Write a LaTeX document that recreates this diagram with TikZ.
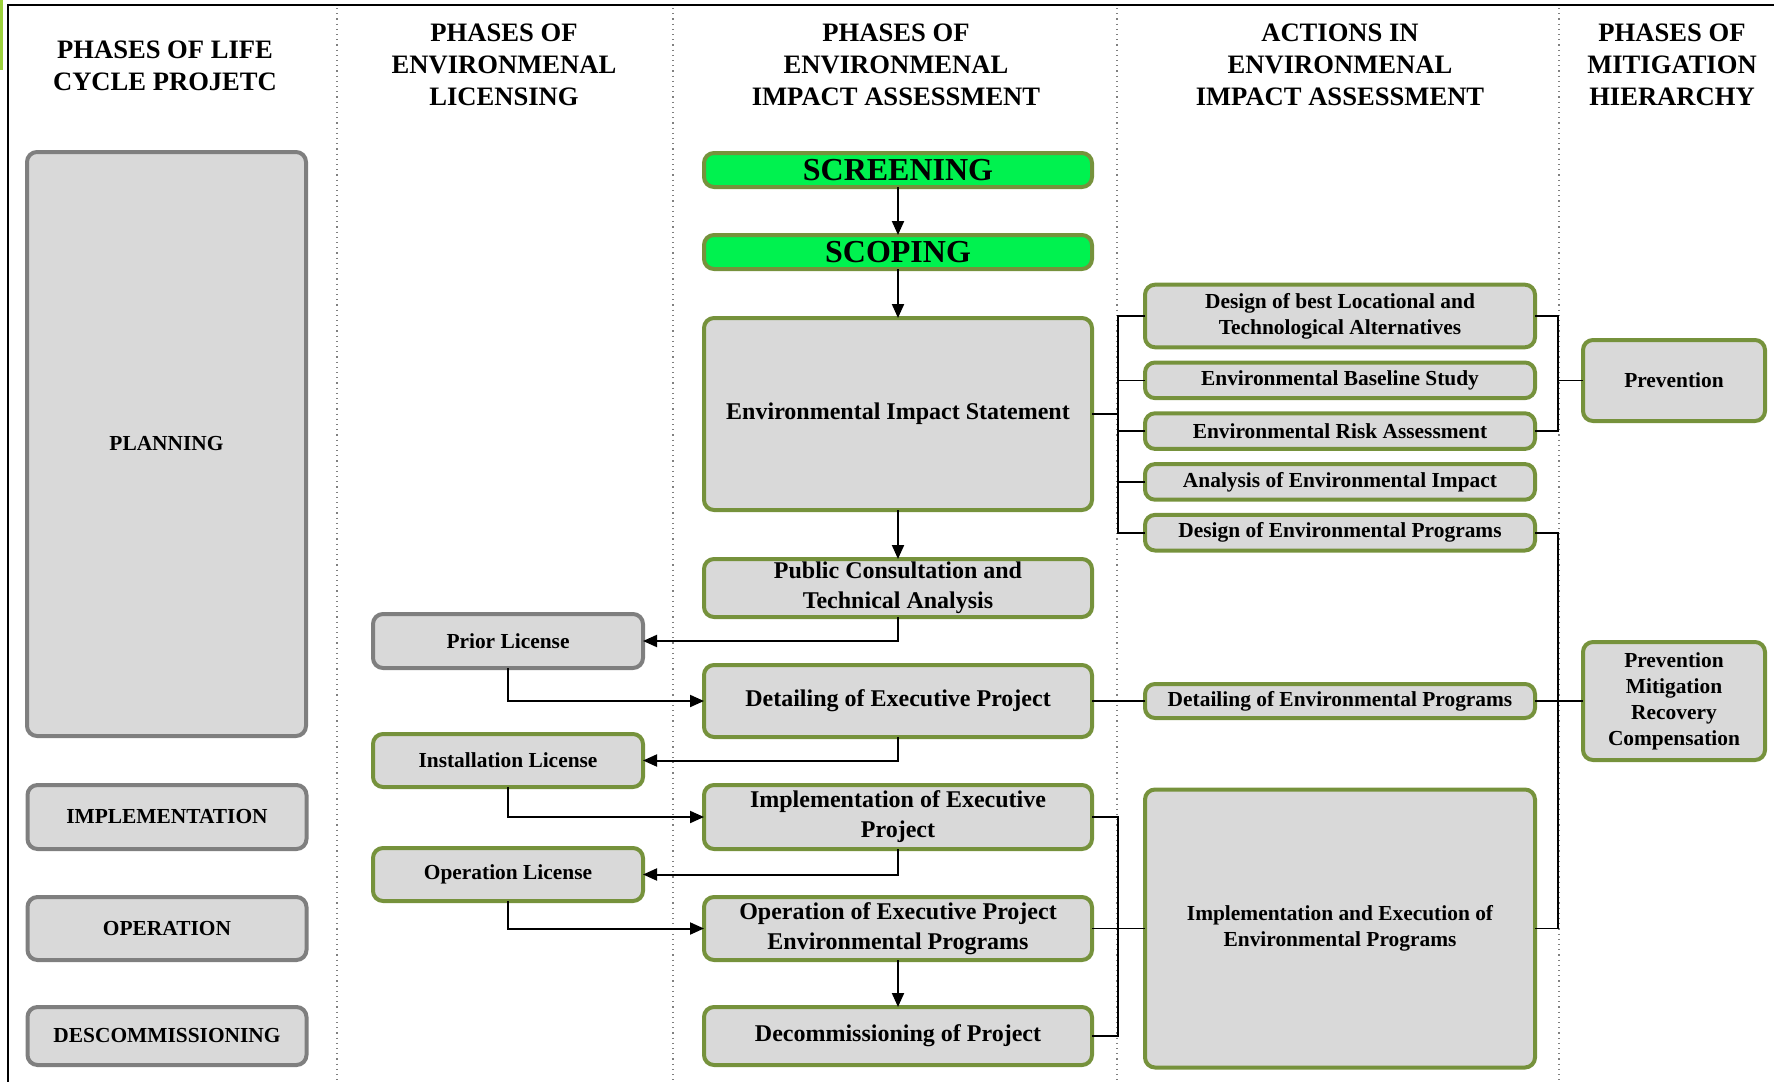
\documentclass[tikz,border=0pt]{standalone}
\usepackage{fontspec}
\setmainfont{Liberation Serif}
\usetikzlibrary{positioning}
\usetikzlibrary{arrows.meta}
\definecolor{boxgray}{HTML}{D9D9D9}
\definecolor{rimgray}{HTML}{7F7F7F}
\definecolor{rimgreen}{HTML}{76923C}
\definecolor{screengreen}{HTML}{00F24F}
\definecolor{stripgreen}{HTML}{9BD03A}
\newcommand{\fsmall}{\fontsize{10.7}{13}\selectfont\bfseries}
\newcommand{\fmid}{\fontsize{12}{15}\selectfont\bfseries}
\newcommand{\fhead}{\fontsize{13.3}{16}\selectfont\bfseries}
\newcommand{\fbig}{\fontsize{16}{19}\selectfont\bfseries}

\begin{document}
\begin{tikzpicture}[x=0.5pt, y=-0.5pt,
  box/.style={draw, rounded corners=5pt, line width=2pt, fill=boxgray, align=center, inner sep=1pt, outer sep=0pt},
  lifebox/.style={box, draw=rimgray, minimum width=139.5pt, font=\fsmall},
  licbox/.style={box, draw=rimgreen, minimum width=135pt, minimum height=26.5pt, font=\fsmall},
  eiabox/.style={box, draw=rimgreen, minimum width=194pt, font=\fmid},
  actbox/.style={box, draw=rimgreen, minimum width=195pt, minimum height=17.8pt, font=\fsmall},
  mitbox/.style={box, draw=rimgreen, minimum width=91pt, font=\fsmall},
  header/.style={align=center, font=\fhead, inner sep=0pt},
  flow/.style={line width=1pt, -{Triangle[length=7pt, width=6pt]}},
  tree/.style={line width=0.8pt},
  colsep/.style={draw=gray, dotted, line width=0.6pt}
]
\useasboundingbox (0,0) rectangle (1774,1082);

% Frame and column separators
\fill[stripgreen] (0,0) rectangle (2.5,70);
\draw[line width=0.7pt] (8,1082) -- (8,5) -- (1774,5);
\foreach \x in {337,673,1117,1559}
  \draw[colsep] (\x,8) -- (\x,1082);

% Headers
\node[header] at (165,66) (h1) {PHASES OF LIFE\\CYCLE PROJETC};
\node[header] at (504,65) (h2) {PHASES OF\\ENVIRONMENAL\\LICENSING};
\node[header] at (896,65) (h3) {PHASES OF\\ENVIRONMENAL\\IMPACT ASSESSMENT};
\node[header] at (1340,65) (h4) {ACTIONS IN\\ENVIRONMENAL\\IMPACT ASSESSMENT};
\node[header] at (1672,65) (h5) {PHASES OF\\MITIGATION\\HIERARCHY};

% Phases of environmental impact assessment
\node[eiabox, fill=screengreen, minimum height=17pt, font=\fbig] at (898,170) (screening) {SCREENING};
\node[eiabox, fill=screengreen, minimum height=17pt, font=\fbig, below=24pt of screening] (scoping) {SCOPING};
\node[eiabox, minimum height=96pt, below=24.5pt of scoping] (eis) {Environmental Impact Statement};
\node[eiabox, minimum height=29pt, below=24.5pt of eis] (pubcons) {Public Consultation and\\Technical Analysis};
\node[eiabox, minimum height=36pt, below=24pt of pubcons] (detexec) {Detailing of Executive Project};
\node[eiabox, minimum height=32pt, below=24pt of detexec] (implexec) {Implementation of Executive\\Project};
\node[eiabox, minimum height=31.5pt, below=24pt of implexec] (operexec) {Operation of Executive Project\\Environmental Programs};
\node[eiabox, minimum height=29pt, below=23.5pt of operexec] (decomm) {Decommissioning of Project};

% Phases of life cycle
\node[lifebox, minimum height=292pt] at (166.5,444) (planning) {PLANNING};
\node[lifebox, minimum height=32pt, left=198.75pt of implexec] (implementation) {IMPLEMENTATION};
\node[lifebox, minimum height=31.5pt, left=198.75pt of operexec] (operation) {OPERATION};
\node[lifebox, minimum height=29pt, left=198.75pt of decomm] (descomm) {DESCOMMISSIONING};

% Phases of licensing
\node[licbox, draw=rimgray, minimum height=27pt] at (508,641) (prior) {Prior License};
\node[licbox] at (508,760.5) (install) {Installation License};
\node[licbox] at (508,874.5) (operlic) {Operation License};

% Actions in environmental impact assessment
\node[actbox, minimum height=31.3pt] at (1340,316) (designbest) {Design of best Locational and\\Technological Alternatives};
\node[actbox, below=7.6pt of designbest] (baseline) {Environmental Baseline Study};
\node[actbox, below=7.6pt of baseline] (risk) {Environmental Risk Assessment};
\node[actbox, below=7.6pt of risk] (analysis) {Analysis of Environmental Impact};
\node[actbox, below=7.6pt of analysis] (designprog) {Design of Environmental Programs};
\node[actbox, minimum height=17pt, right=26.5pt of detexec] (detailprog) {Detailing of Environmental Programs};
\node[actbox, minimum height=139pt, right=26.5pt of operexec] (implprog) {Implementation and Execution of\\Environmental Programs};

% Mitigation hierarchy
\node[mitbox, minimum height=40.5pt] at (1674,380.5) (prevention) {Prevention};
\node[mitbox, minimum height=59pt, right=24pt of detailprog] (pmrc) {Prevention\\Mitigation\\Recovery\\Compensation};

% Bus points
\coordinate[right=13pt of eis.east] (busA);
\coordinate[left=12.5pt of prevention.west] (busB);
\coordinate[left=12.5pt of pmrc.west] (busC);
\coordinate[right=13pt of operexec.east] (busD);

% Flow of phases
\draw[flow] (screening) -- (scoping);
\draw[flow] (scoping) -- (eis);
\draw[flow] (eis) -- (pubcons);
\draw[flow] (pubcons.south) |- (prior.east);
\draw[flow] (prior.south) |- (detexec.west);
\draw[flow] (detexec.south) |- (install.east);
\draw[flow] (install.south) |- (implexec.west);
\draw[flow] (implexec.south) |- (operlic.east);
\draw[flow] (operlic.south) |- (operexec.west);
\draw[flow] (operexec) -- (decomm);

% Connections to actions and mitigation
\draw[tree] (eis.east) -- (busA);
\foreach \a in {designbest,baseline,risk,analysis,designprog}
  \draw[tree] (\a.west) -| (busA);
\draw[tree] (designbest.east) -| (busB);
\draw[tree] (risk.east) -| (busB);
\draw[tree] (busB) -- (prevention.west);
\draw[tree] (designprog.east) -| (busC);
\draw[tree] (implprog.east) -| (busC);
\draw[tree] (detexec.east) -- (detailprog.west);
\draw[tree] (detailprog.east) -- (pmrc.west);
\draw[tree] (implexec.east) -| (busD);
\draw[tree] (decomm.east) -| (busD);
\draw[tree] (operexec.east) -- (implprog.west);

\end{tikzpicture}
\end{document}
